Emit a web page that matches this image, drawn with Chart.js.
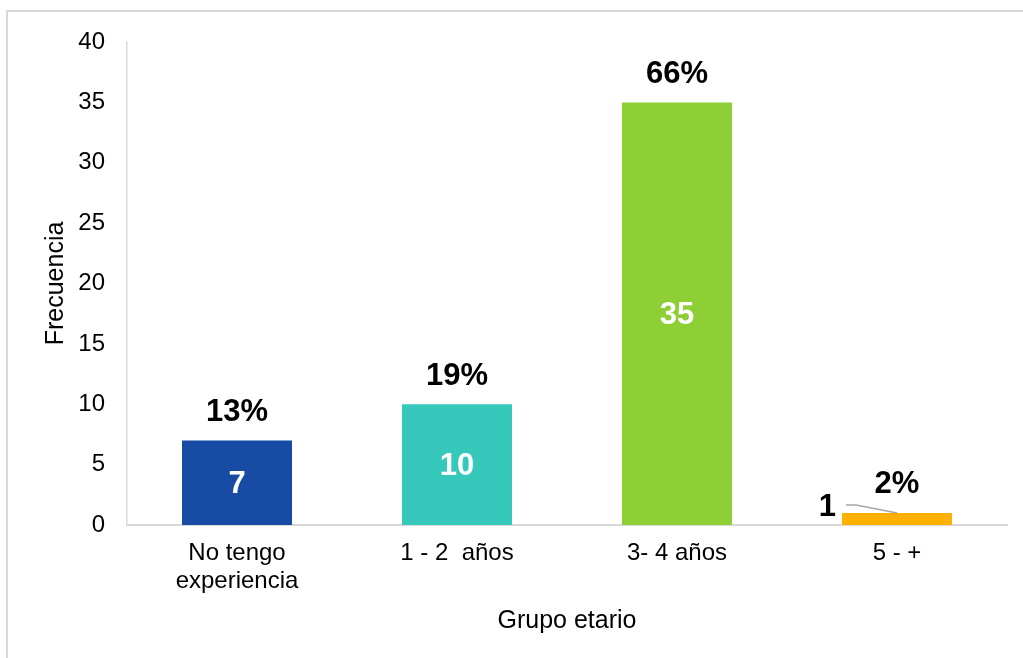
<!DOCTYPE html>
<html>
<head>
<meta charset="utf-8">
<script src="https://cdn.jsdelivr.net/npm/chart.js@4/dist/chart.umd.min.js"></script>
<style>
  html, body { margin: 0; padding: 0; background: #fff; }
  #grafico { display: block; }
</style>
</head>
<body>
<canvas id="grafico" width="1023" height="658"></canvas>
<script>
const categorias = [["No tengo", "experiencia"], "1 - 2  años", "3- 4 años", "5 - +"];
const frecuencias = [7, 10, 35, 1];
const colores = ["#174BA4", "#36C8BA", "#8DCF34", "#FFB000"];
const ticksY = [0, 5, 10, 15, 20, 25, 30, 35, 40];

const total = frecuencias.reduce((a, b) => a + b, 0);
const FUENTE = "'Liberation Sans', Arial, sans-serif";

// marco gris claro del gráfico
const marco = {
  id: "marco",
  beforeDraw(chart) {
    const ctx = chart.ctx;
    ctx.save();
    ctx.fillStyle = "#fff";
    ctx.fillRect(0, 0, chart.width, chart.height);
    ctx.strokeStyle = "#d9d9d9";
    ctx.lineWidth = 2;
    ctx.strokeRect(7, 11, chart.width + 20, chart.height + 20);
    ctx.restore();
  }
};

// etiquetas: valor dentro de la barra y porcentaje encima
const etiquetas = {
  id: "etiquetas",
  afterDatasetsDraw(chart) {
    const ctx = chart.ctx;
    const meta = chart.getDatasetMeta(0);
    ctx.save();
    ctx.font = "bold 31px " + FUENTE;
    ctx.textAlign = "center";
    ctx.textBaseline = "middle";
    meta.data.forEach((bar, i) => {
      const v = frecuencias[i];
      const pct = Math.round(v / total * 100) + "%";
      const alto = bar.base - bar.y;
      ctx.fillStyle = "#000";
      ctx.fillText(pct, bar.x, bar.y - 28);
      if (alto > 34) {
        ctx.fillStyle = "#fff";
        ctx.fillText(String(v), bar.x, (bar.y + bar.base) / 2 + 2);
      } else {
        // barra muy baja: valor a la izquierda con línea guía
        const izq = bar.x - bar.width / 2;
        ctx.fillStyle = "#000";
        ctx.textAlign = "right";
        ctx.fillText(String(v), izq - 6, bar.y - 5);
        ctx.textAlign = "center";
        ctx.strokeStyle = "#a6a6a6";
        ctx.lineWidth = 1.5;
        ctx.beginPath();
        ctx.moveTo(izq + 4, bar.y - 8);
        ctx.lineTo(izq + 14, bar.y - 8);
        ctx.lineTo(bar.x, bar.y);
        ctx.stroke();
      }
    });
    ctx.restore();
  }
};

new Chart(document.getElementById("grafico"), {
  type: "bar",
  data: {
    labels: categorias,
    datasets: [{
      data: frecuencias,
      backgroundColor: colores,
      borderWidth: 0,
      categoryPercentage: 1,
      barPercentage: 0.5
    }]
  },
  options: {
    responsive: false,
    animation: false,
    devicePixelRatio: 1,
    layout: { padding: { left: 0, top: 42, right: 16, bottom: 0 } },
    plugins: {
      legend: { display: false },
      tooltip: { enabled: false }
    },
    scales: {
      x: {
        grid: { display: false, drawTicks: false },
        border: { color: "#d9d9d9", width: 2 },
        ticks: {
          color: "#000",
          padding: 15,
          maxRotation: 0,
          font: { family: FUENTE, size: 24, lineHeight: 1.15 }
        },
        title: {
          display: true,
          text: "Grupo etario",
          color: "#000",
          padding: { top: 0, bottom: 22 },
          font: { family: FUENTE, size: 25 }
        },
        afterFit(scale) { scale.height = 133; }
      },
      y: {
        min: 0,
        max: 40,
        grid: { display: false, drawTicks: false },
        border: { color: "#d9d9d9", width: 1.5 },
        afterBuildTicks(scale) { scale.ticks = ticksY.map(v => ({ value: v })); },
        ticks: {
          color: "#000",
          padding: 22,
          font: { family: FUENTE, size: 24 }
        },
        title: {
          display: true,
          text: "Frecuencia",
          color: "#000",
          padding: { top: 41, bottom: 0 },
          font: { family: FUENTE, size: 25 }
        },
        afterFit(scale) { scale.width = 127; }
      }
    }
  },
  plugins: [marco, etiquetas]
});
</script>
</body>
</html>
